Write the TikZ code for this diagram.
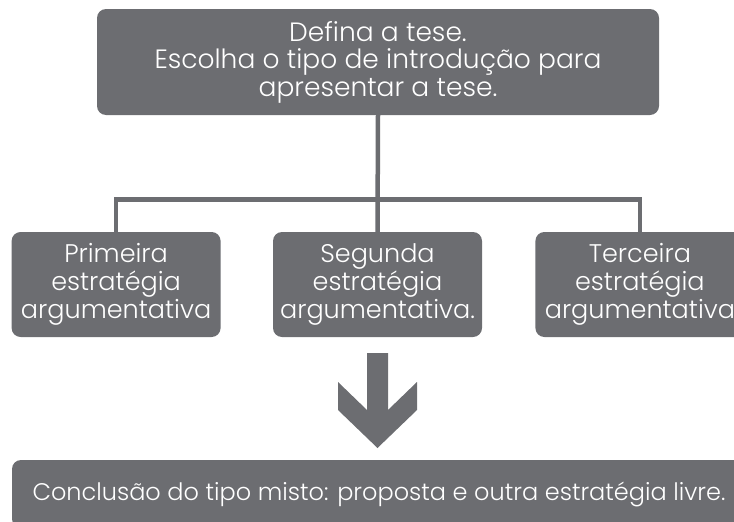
\documentclass[tikz,border=0pt]{standalone}
\usepackage{fontspec}
\setmainfont{Poppins Light}
\usetikzlibrary{positioning}

\definecolor{cinza}{HTML}{6C6D71}

\tikzset{
  caixa/.style={rounded corners=9pt, fill=cinza, text=white, align=center,
    inner sep=0pt, font=\fontsize{25.5}{28}\selectfont},
  ligacao/.style={draw=cinza, line width=4.5pt},
}

\begin{document}
\begin{tikzpicture}[x=1pt,y=-1pt]
  \useasboundingbox (0,0) rectangle (734,522);
  \clip (0,0) rectangle (734,522);

  % caixa de cima
  \node[caixa, minimum width=562pt, minimum height=106pt,
    font=\fontsize{26.5}{27.5}\selectfont] (tese) at (378,62)
    {Defina a tese.\\Escolha o tipo de introdução para\\apresentar a tese.};

  % estrategias
  \node[caixa, minimum width=209pt, minimum height=105pt] (seg) at (377.5,284.5)
    {Segunda\\estratégia\\argumentativa.};
  \node[caixa, minimum width=209pt, minimum height=105pt, left=52pt of seg] (prim)
    {Primeira\\estratégia\\argumentativa};
  \node[caixa, minimum width=209pt, minimum height=105pt, right=53pt of seg] (terc)
    {Terceira\\estratégia\\argumentativa};

  % conclusao
  \node[caixa, minimum width=734pt, minimum height=68pt,
    font=\fontsize{24}{28}\selectfont] (conc) at (379,494)
    {Conclusão do tipo misto: proposta e outra estratégia livre.};

  % ligacoes
  \coordinate (bus) at (378,199.5);
  \draw[ligacao] (tese.south) -- (seg.north);
  \draw[ligacao] (prim.north) |- (bus) -| (terc.north);

  % seta para baixo
  \fill[cinza] (367,353) -- (388,353) -- (388,410) -- (417,382) -- (417,410)
    -- (377.5,448) -- (338,410) -- (338,382) -- (367,410) -- cycle;
\end{tikzpicture}
\end{document}
